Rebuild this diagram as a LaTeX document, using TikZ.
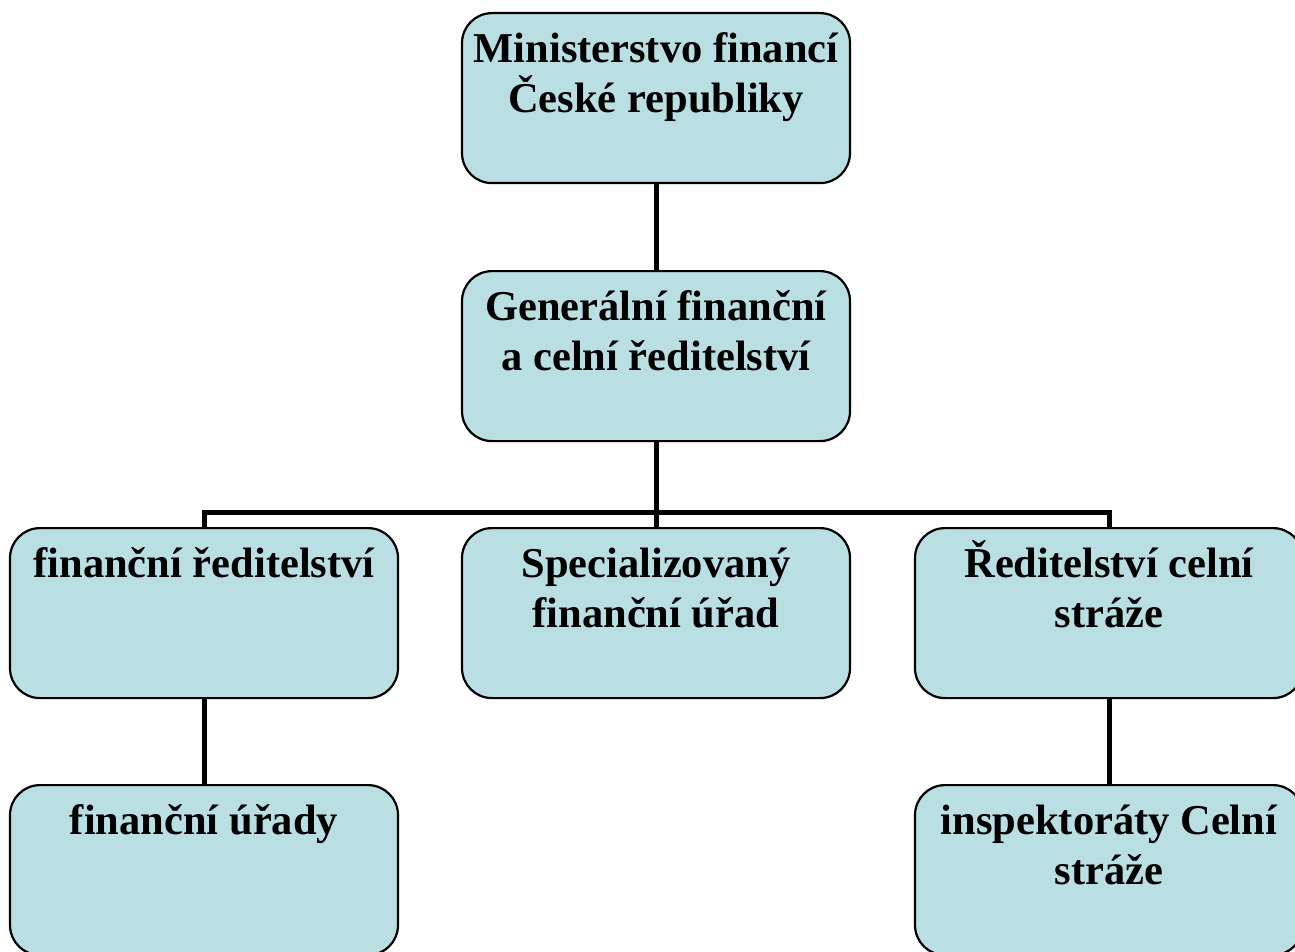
\documentclass[tikz,border=0pt]{standalone}
\usepackage{fontspec}
\setmainfont{Liberation Serif}
\usetikzlibrary{positioning}

\definecolor{boxfill}{RGB}{186,223,227}
\newcommand{\orgtext}[1]{\parbox[t][170pt][t]{388pt}{\centering\rule{0pt}{49pt}#1}}

\begin{document}
\begin{tikzpicture}[
    x=1pt, y=-1pt,
	orgbox/.style={
	  rectangle,
	  rounded corners=30pt,
	  line width=2.2pt,
	  draw=black,
	  fill=boxfill,
	  inner sep=0pt,
	  minimum width=388pt,
	  minimum height=170pt,
	  anchor=north,
	  font=\fontsize{42.5}{50}\selectfont\bfseries
	},
 	line/.style={draw, line width=5pt}
	]
	\useasboundingbox (0,0) rectangle (1295,952);
	\node [orgbox] at (656, 12) (mf) {\orgtext{Ministerstvo financí\\České republiky}};
	\node [orgbox] at (656, 270) (gfr) {\orgtext{Generální finanční\\a celní ředitelství}};
	\node [orgbox] at (204, 527) (fr) {\orgtext{finanční ředitelství}};
	\node [orgbox] at (656, 527) (sfu) {\orgtext{Specializovaný\\finanční úřad}};
	\node [orgbox] at (1109, 527) (rcs) {\orgtext{Ředitelství celní\\stráže}};
	\node [orgbox] at (204, 784) (fu) {\orgtext{finanční úřady}};
	\node [orgbox] at (1109, 784) (ics) {\orgtext{inspektoráty Celní\\stráže}};
	\coordinate (bus) at (656, 512);
	\path[line] (mf) -- (gfr);
	\path[line] (gfr) -- (bus);
	\path[line] (bus) -- (sfu);
	\path[line] (fr.north) |- (bus) -| (rcs.north);
	\path[line] (fr) -- (fu);
	\path[line] (rcs) -- (ics);
  \end{tikzpicture}
\end{document}
